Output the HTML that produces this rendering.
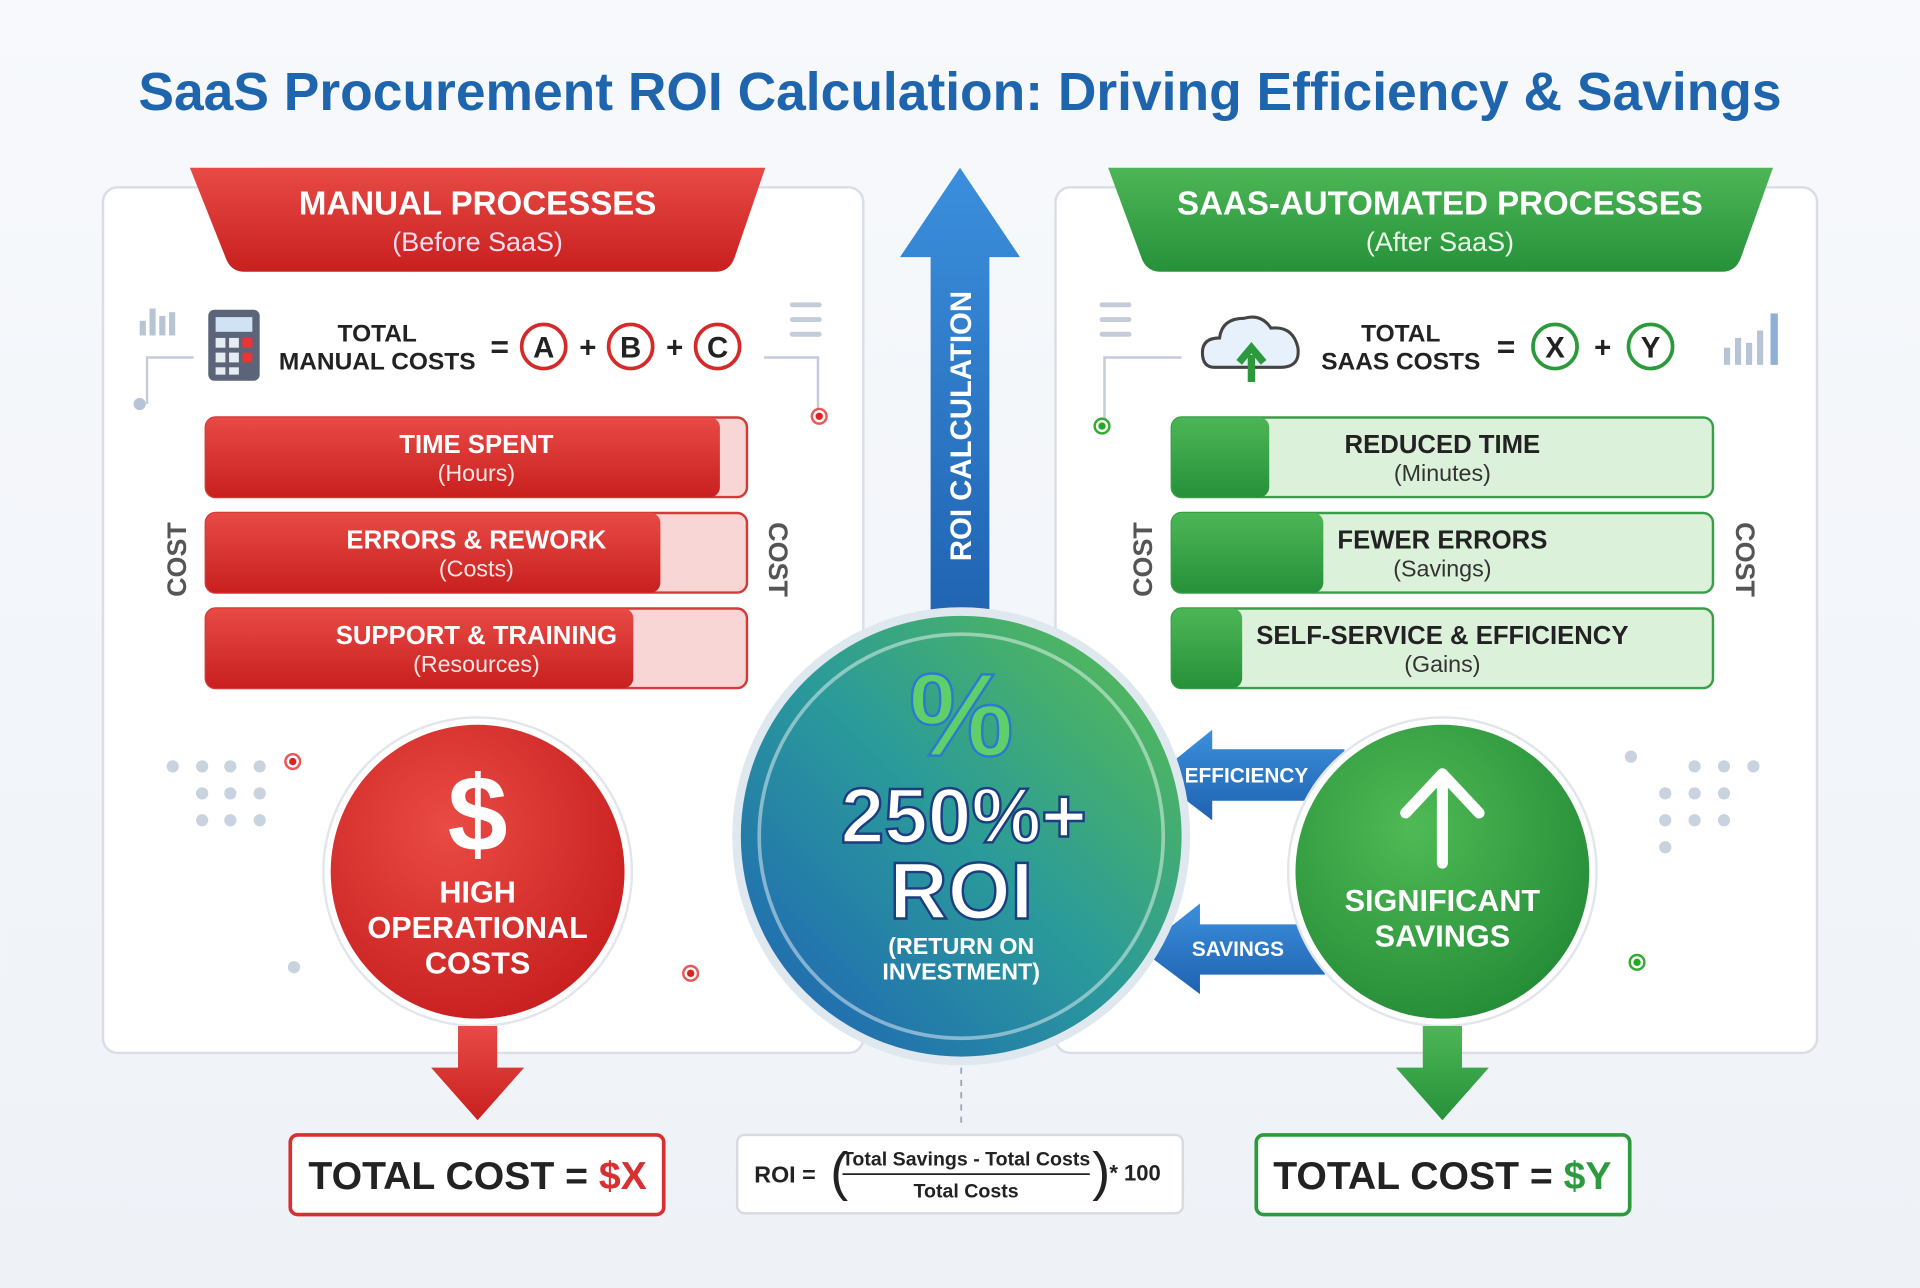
<!DOCTYPE html>
<html><head><meta charset="utf-8"><style>
html,body{margin:0;padding:0;background:#f3f6fa;}
svg{display:block;font-family:"Liberation Sans",sans-serif;}
</style></head><body>
<svg width="1920" height="1288" viewBox="0 0 1568 1052" xmlns="http://www.w3.org/2000/svg">
<defs>
<linearGradient id="bg" x1="0" y1="0" x2="0" y2="1"><stop offset="0" stop-color="#f7f9fc"/><stop offset="1" stop-color="#eef2f7"/></linearGradient>
<linearGradient id="red" x1="0" y1="0" x2="0" y2="1"><stop offset="0" stop-color="#e84a45"/><stop offset="1" stop-color="#c8201f"/></linearGradient>
<linearGradient id="grn" x1="0" y1="0" x2="0" y2="1"><stop offset="0" stop-color="#4cb656"/><stop offset="1" stop-color="#27913a"/></linearGradient>
<linearGradient id="blu" x1="0" y1="0" x2="0" y2="1"><stop offset="0" stop-color="#3b8fdc"/><stop offset="1" stop-color="#1f62b0"/></linearGradient>
<linearGradient id="roi" x1="1" y1="0" x2="0" y2="1"><stop offset="0" stop-color="#5cc04a"/><stop offset="0.5" stop-color="#2a9a9a"/><stop offset="1" stop-color="#1e5fb8"/></linearGradient>
<radialGradient id="rc" cx="0.4" cy="0.35" r="0.7"><stop offset="0" stop-color="#ea4b44"/><stop offset="1" stop-color="#c71f1f"/></radialGradient>
<radialGradient id="gc" cx="0.4" cy="0.35" r="0.7"><stop offset="0" stop-color="#4fba55"/><stop offset="1" stop-color="#258c37"/></radialGradient>
</defs>
<rect width="1568" height="1052" fill="url(#bg)"/>
<text x="784" y="90" text-anchor="middle" font-size="43.6" font-weight="700" fill="#1f65ad">SaaS Procurement ROI Calculation: Driving Efficiency &amp; Savings</text>

<g>
<rect x="84" y="153" width="621" height="707" rx="12" fill="#fff" stroke="#d9dee6" stroke-width="2"/>
<path d="M155,137 L625,137 L600,210 Q596,222 584,222 L200,222 Q188,222 184,210 Z" fill="url(#red)"/>
<text x="390" y="175" text-anchor="middle" font-size="27" font-weight="700" fill="#fff">MANUAL PROCESSES</text>
<text x="390" y="205" text-anchor="middle" font-size="22" fill="#fde">(Before SaaS)</text>
<rect x="170" y="253" width="42" height="58" rx="5" fill="#5b6478"/>
<rect x="176" y="259" width="30" height="12" fill="#cfe3f5"/>
<g fill="#e7ecf3"><rect x="176" y="276" width="8" height="8"/><rect x="187" y="276" width="8" height="8"/><rect x="198" y="276" width="8" height="8" fill="#e33"/><rect x="176" y="288" width="8" height="8"/><rect x="187" y="288" width="8" height="8"/><rect x="198" y="288" width="8" height="8" fill="#e33"/><rect x="176" y="300" width="8" height="6"/><rect x="187" y="300" width="8" height="6"/></g>
<text x="308" y="279" text-anchor="middle" font-size="20" font-weight="700" fill="#222">TOTAL</text>
<text x="308" y="302" text-anchor="middle" font-size="20" font-weight="700" fill="#222">MANUAL COSTS</text>
<text x="408" y="292" text-anchor="middle" font-size="26" font-weight="700" fill="#222">=</text>
<g font-size="24" font-weight="700" fill="#222" text-anchor="middle">
<circle cx="444" cy="283" r="18" fill="#fff" stroke="#d42a2a" stroke-width="3"/><text x="444" y="292">A</text>
<text x="480" y="292">+</text>
<circle cx="515" cy="283" r="18" fill="#fff" stroke="#d42a2a" stroke-width="3"/><text x="515" y="292">B</text>
<text x="551" y="292">+</text>
<circle cx="586" cy="283" r="18" fill="#fff" stroke="#d42a2a" stroke-width="3"/><text x="586" y="292">C</text>
</g>
<g fill="#b6c4d6"><rect x="114" y="262" width="5" height="12"/><rect x="122" y="252" width="5" height="22"/><rect x="130" y="258" width="5" height="16"/><rect x="138" y="255" width="5" height="19"/></g>
<path d="M158,292 L120,292 L120,330" stroke="#c3ccd8" fill="none" stroke-width="2"/><circle cx="114" cy="330" r="5" fill="#b6c4d6"/>
<path d="M624,292 L668,292 L668,338" stroke="#c3ccd8" fill="none" stroke-width="2"/><circle cx="669" cy="340" r="6" fill="#fff" stroke="#e55" stroke-width="2"/><circle cx="669" cy="340" r="3" fill="#d22"/>
<g fill="#c3ccd8"><rect x="645" y="247" width="26" height="4" rx="2"/><rect x="645" y="259" width="26" height="4" rx="2"/><rect x="645" y="271" width="26" height="4" rx="2"/></g>
<text transform="translate(152,457) rotate(-90)" text-anchor="middle" font-size="22" font-weight="700" fill="#555">COST</text>
<text transform="translate(628,457) rotate(90)" text-anchor="middle" font-size="22" font-weight="700" fill="#555">COST</text>
</g>
<g id="leftbars"></g>

<g>
<rect x="862" y="153" width="622" height="707" rx="12" fill="#fff" stroke="#d9dee6" stroke-width="2"/>
<path d="M905,137 L1448,137 L1422,210 Q1418,222 1406,222 L948,222 Q936,222 932,210 Z" fill="url(#grn)"/>
<text x="1176" y="175" text-anchor="middle" font-size="27" font-weight="700" fill="#fff">SAAS-AUTOMATED PROCESSES</text>
<text x="1176" y="205" text-anchor="middle" font-size="22" fill="#eaffea">(After SaaS)</text>
<path d="M992,300 Q982,300 982,288 Q982,276 996,276 Q998,260 1016,260 Q1030,256 1038,268 Q1056,266 1060,284 Q1062,300 1046,300 Z" fill="#e6f1fb" stroke="#444" stroke-width="2.5"/>
<path d="M1022,312 L1022,290 M1012,296 L1022,284 L1032,296" stroke="#2c9a3c" stroke-width="6" fill="none"/>
<text x="1144" y="279" text-anchor="middle" font-size="20" font-weight="700" fill="#222">TOTAL</text>
<text x="1144" y="302" text-anchor="middle" font-size="20" font-weight="700" fill="#222">SAAS COSTS</text>
<text x="1230" y="292" text-anchor="middle" font-size="26" font-weight="700" fill="#222">=</text>
<g font-size="24" font-weight="700" fill="#222" text-anchor="middle">
<circle cx="1270" cy="283" r="18" fill="#fff" stroke="#2a9a3a" stroke-width="3"/><text x="1270" y="292">X</text>
<text x="1309" y="292">+</text>
<circle cx="1348" cy="283" r="18" fill="#fff" stroke="#2a9a3a" stroke-width="3"/><text x="1348" y="292">Y</text>
</g>
<g fill="#c3ccd8"><rect x="898" y="247" width="26" height="4" rx="2"/><rect x="898" y="259" width="26" height="4" rx="2"/><rect x="898" y="271" width="26" height="4" rx="2"/></g>
<path d="M965,292 L902,292 L902,346" stroke="#c3ccd8" fill="none" stroke-width="2"/><circle cx="900" cy="348" r="6" fill="#fff" stroke="#3a3" stroke-width="2"/><circle cx="900" cy="348" r="3" fill="#2a2"/>
<g fill="#b6c4d6"><rect x="1408" y="284" width="5" height="14"/><rect x="1417" y="276" width="5" height="22"/><rect x="1426" y="280" width="5" height="18"/><rect x="1435" y="270" width="5" height="28"/><rect x="1446" y="256" width="6" height="42" fill="#8fb0d6"/></g>
<text transform="translate(941,457) rotate(-90)" text-anchor="middle" font-size="22" font-weight="700" fill="#555">COST</text>
<text transform="translate(1418,457) rotate(90)" text-anchor="middle" font-size="22" font-weight="700" fill="#555">COST</text>
</g>
<g id="rightbars"></g>

<g fill="#c9d3e0">
<circle cx="141" cy="626" r="5"/><circle cx="165" cy="626" r="5"/><circle cx="188" cy="626" r="5"/><circle cx="212" cy="626" r="5"/>
<circle cx="165" cy="648" r="5"/><circle cx="188" cy="648" r="5"/><circle cx="212" cy="648" r="5"/>
<circle cx="165" cy="670" r="5"/><circle cx="188" cy="670" r="5"/><circle cx="212" cy="670" r="5"/><circle cx="240" cy="790" r="5"/>
<circle cx="1332" cy="618" r="5"/><circle cx="1384" cy="626" r="5"/><circle cx="1408" cy="626" r="5"/><circle cx="1432" cy="626" r="5"/>
<circle cx="1360" cy="648" r="5"/><circle cx="1384" cy="648" r="5"/><circle cx="1408" cy="648" r="5"/>
<circle cx="1360" cy="670" r="5"/><circle cx="1384" cy="670" r="5"/><circle cx="1408" cy="670" r="5"/><circle cx="1360" cy="692" r="5"/>
</g>
<circle cx="239" cy="622" r="6" fill="#fff" stroke="#e55" stroke-width="2"/><circle cx="239" cy="622" r="3" fill="#d22"/>
<circle cx="564" cy="795" r="6" fill="#fff" stroke="#e55" stroke-width="2"/><circle cx="564" cy="795" r="3" fill="#d22"/>
<circle cx="1337" cy="786" r="6" fill="#fff" stroke="#3a3" stroke-width="2"/><circle cx="1337" cy="786" r="3" fill="#2a2"/>

<g>
<path d="M760,520 L760,210 L735,210 L784,137 L833,210 L808,210 L808,520 Z" fill="url(#blu)"/>
<text transform="translate(793,348) rotate(-90)" text-anchor="middle" font-size="24" font-weight="700" fill="#fff">ROI CALCULATION</text>
</g>
<line x1="785" y1="862" x2="785" y2="922" stroke="#9aa8bb" stroke-dasharray="5,5" stroke-width="1.5"/>

<g>
<path d="M1098,612 L990,612 L990,596 L943,634 L990,670 L990,654 L1098,654 Z" fill="url(#blu)"/>
<text x="1018" y="639" text-anchor="middle" font-size="17" font-weight="700" fill="#fff">EFFICIENCY</text>
</g>
<g>
<path d="M1082,755 L980,755 L980,738 L932,776 L980,812 L980,796 L1082,796 Z" fill="url(#blu)"/>
<text x="1011" y="781" text-anchor="middle" font-size="17" font-weight="700" fill="#fff">SAVINGS</text>
</g>

<g>
<circle cx="785" cy="683" r="187" fill="#dfe8ef"/>
<circle cx="785" cy="683" r="180" fill="url(#roi)"/>
<circle cx="785" cy="683" r="165" fill="none" stroke="#ffffff" stroke-opacity="0.45" stroke-width="3"/>
<text x="785" y="617" text-anchor="middle" font-size="96" font-weight="700" fill="#5fcf6a" stroke="#2a7ad0" stroke-width="2">%</text>
<text x="787" y="688" text-anchor="middle" font-size="64" font-weight="700" fill="#fff" stroke="#1c3d80" stroke-width="2">250%+</text>
<text x="785" y="750" text-anchor="middle" font-size="66" font-weight="700" fill="#fff" stroke="#1c3d80" stroke-width="2">ROI</text>
<text x="785" y="779" text-anchor="middle" font-size="19" font-weight="700" fill="#fff">(RETURN ON</text>
<text x="785" y="800" text-anchor="middle" font-size="19" font-weight="700" fill="#fff">INVESTMENT)</text>
</g>

<g>
<circle cx="390" cy="712" r="126" fill="#fff" stroke="#e2e6ec" stroke-width="2"/>
<circle cx="390" cy="712" r="120" fill="url(#rc)"/>
<text x="390" y="695" text-anchor="middle" font-size="88" font-weight="700" fill="#fff">$</text>
<text x="390" y="737" text-anchor="middle" font-size="25" font-weight="700" fill="#fff">HIGH</text>
<text x="390" y="766" text-anchor="middle" font-size="25" font-weight="700" fill="#fff">OPERATIONAL</text>
<text x="390" y="795" text-anchor="middle" font-size="25" font-weight="700" fill="#fff">COSTS</text>
</g>
<path d="M374,838 L406,838 L406,872 L428,872 L390,915 L352,872 L374,872 Z" fill="url(#red)"/>

<g>
<circle cx="1178" cy="712" r="126" fill="#fff" stroke="#e2e6ec" stroke-width="2"/>
<circle cx="1178" cy="712" r="120" fill="url(#gc)"/>
<path d="M1178,705 L1178,636 M1148,664 L1178,632 L1208,664" stroke="#fff" stroke-width="9" fill="none" stroke-linecap="round" stroke-linejoin="round"/>
<text x="1178" y="744" text-anchor="middle" font-size="25" font-weight="700" fill="#fff">SIGNIFICANT</text>
<text x="1178" y="773" text-anchor="middle" font-size="25" font-weight="700" fill="#fff">SAVINGS</text>
</g>
<path d="M1162,838 L1194,838 L1194,872 L1216,872 L1178,915 L1140,872 L1162,872 Z" fill="url(#grn)"/>

<g>
<rect x="237" y="927" width="305" height="65" rx="6" fill="#fff" stroke="#d63030" stroke-width="3"/>
<text x="390" y="971" text-anchor="middle" font-size="32" font-weight="700" fill="#222">TOTAL COST = <tspan fill="#d63030">$X</tspan></text>
</g>
<g>
<rect x="1026" y="927" width="305" height="65" rx="6" fill="#fff" stroke="#2e9a3e" stroke-width="3"/>
<text x="1178" y="971" text-anchor="middle" font-size="32" font-weight="700" fill="#222">TOTAL COST = <tspan fill="#2e9a3e">$Y</tspan></text>
</g>
<g>
<rect x="602" y="927" width="364" height="64" rx="6" fill="#fff" stroke="#d6dbe2" stroke-width="2"/>
<text x="616" y="966" font-size="19" font-weight="700" fill="#222">ROI =</text>
<text x="678" y="972" font-size="44" fill="#222">(</text>
<text x="789" y="952" text-anchor="middle" font-size="16" font-weight="700" fill="#222">Total Savings - Total Costs</text>
<line x1="688" y1="959" x2="890" y2="959" stroke="#222" stroke-width="1.5"/>
<text x="789" y="978" text-anchor="middle" font-size="16" font-weight="700" fill="#222">Total Costs</text>
<text x="892" y="972" font-size="44" fill="#222">)</text>
<text x="906" y="964" font-size="18" font-weight="700" fill="#222">* 100</text>
</g>
</svg>
<script>
var manualLabels=["TIME SPENT","ERRORS & REWORK","SUPPORT & TRAINING"];
var manualSubs=["(Hours)","(Costs)","(Resources)"];
var manualValues=[95,84,79];
var saasLabels=["REDUCED TIME","FEWER ERRORS","SELF-SERVICE & EFFICIENCY"];
var saasSubs=["(Minutes)","(Savings)","(Gains)"];
var saasValues=[18,28,13];
var NS="http://www.w3.org/2000/svg";
function mk(t,a){var e=document.createElementNS(NS,t);for(var k in a)e.setAttribute(k,a[k]);return e;}
function bars(gid,x0,labels,subs,vals,fill,bgc,stroke,txt,subc){
  var g=document.getElementById(gid),W=442,H=65;
  for(var i=0;i<vals.length;i++){
    var y=341+i*78;
    var bg=mk('rect',{x:x0,y:y,width:W,height:H,rx:8,fill:bgc,stroke:stroke,'stroke-width':2});
    
    
    g.appendChild(bg);
    var f=mk('rect',{x:x0,y:y,width:W*vals[i]/100,height:H,rx:8,fill:fill});
    
    
    g.appendChild(f);
    var t=mk('text',{x:x0+W/2,y:y+29,'text-anchor':'middle','font-size':21,'font-weight':700,fill:txt});
    t.textContent=labels[i];
    
    
    g.appendChild(t);
    var s=mk('text',{x:x0+W/2,y:y+52,'text-anchor':'middle','font-size':19,fill:subc});
    s.textContent=subs[i];
    
    
    g.appendChild(s);
  }
}
bars('leftbars',168,manualLabels,manualSubs,manualValues,'url(#red)','#f9d6d6','#d43a3a','#fff','#fde4e4');
bars('rightbars',957,saasLabels,saasSubs,saasValues,'url(#grn)','#dcf1da','#3a9e48','#222','#333');
</script>
</body></html>
